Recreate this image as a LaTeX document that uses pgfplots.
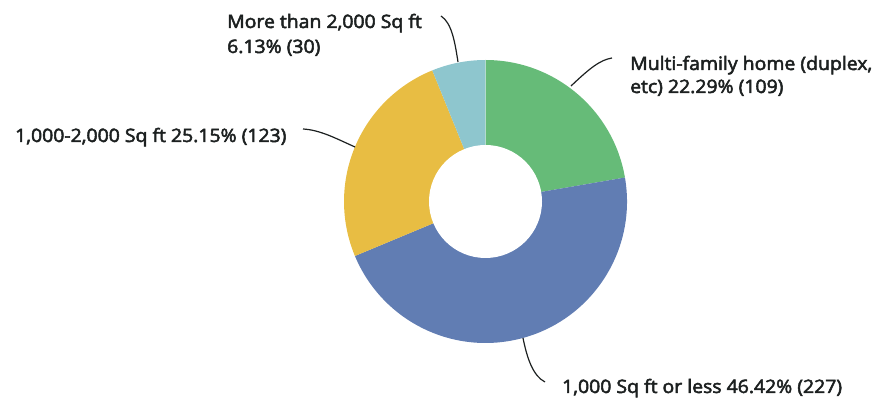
\documentclass[border=0pt]{standalone}
\usepackage{pgfplots}
\pgfplotsset{compat=1.18}
\usepackage{pgfplotstable}
\usepackage{fontspec}
\setmainfont{Open Sans}
\definecolor{cGreen}{HTML}{66BB78}
\definecolor{cBlue}{HTML}{617DB3}
\definecolor{cYellow}{HTML}{E8BD43}
\definecolor{cLight}{HTML}{8EC6CE}
\definecolor{cText}{HTML}{1C2020}
\newcommand\fb[1]{\scalebox{1.05}[1]{\special{pdf:literal direct 2 Tr 0.5 w}#1\special{pdf:literal direct 0 Tr}}}
% counts of the four answers, clockwise from 12 o'clock
\pgfplotstableread{
name count
multi 109
small 227
mid 123
large 30
}\donutdata
\pgfplotstablegetelem{0}{count}\of\donutdata \let\cA\pgfplotsretval
\pgfplotstablegetelem{1}{count}\of\donutdata \let\cB\pgfplotsretval
\pgfplotstablegetelem{2}{count}\of\donutdata \let\cC\pgfplotsretval
\pgfplotstablegetelem{3}{count}\of\donutdata \let\cD\pgfplotsretval
\pgfmathsetmacro\tot{\cA+\cB+\cC+\cD}
\pgfmathsetmacro\aO{90}
\pgfmathsetmacro\aA{90-360*(\cA/\tot)}
\pgfmathsetmacro\aB{\aA-360*(\cB/\tot)}
\pgfmathsetmacro\aC{\aB-360*(\cC/\tot)}
\pgfmathsetmacro\aD{\aC-360*(\cD/\tot)}
\begin{document}
\begin{tikzpicture}
\begin{axis}[
  width=881pt, height=398pt, scale only axis,
  xmin=0, xmax=881, ymin=0, ymax=398,
  hide axis, clip=false,
]
\path (axis cs:0,0) rectangle (axis cs:881,398);
\def\cx{485.5}\def\cy{196.5}\def\R{141.5pt}
\fill[cGreen]  (axis cs:\cx,\cy) -- ++(\aO:\R) arc[start angle=\aO, end angle=\aA, radius=\R] -- cycle;
\fill[cBlue]   (axis cs:\cx,\cy) -- ++(\aA:\R) arc[start angle=\aA, end angle=\aB, radius=\R] -- cycle;
\fill[cYellow] (axis cs:\cx,\cy) -- ++(\aB:\R) arc[start angle=\aB, end angle=\aC, radius=\R] -- cycle;
\fill[cLight]  (axis cs:\cx,\cy) -- ++(\aC:\R) arc[start angle=\aC, end angle=\aD, radius=\R] -- cycle;
\fill[white] (axis cs:\cx,\cy) circle[radius=56.5pt];
% leader lines
\draw[cText, line width=1.2pt] (axis cs:571,312) .. controls (axis cs:590,330) and (axis cs:600,338) .. (axis cs:612,340);
\draw[cText, line width=1.2pt] (axis cs:458,336) .. controls (axis cs:455,355) and (axis cs:452,375) .. (axis cs:441,382);
\draw[cText, line width=1.2pt] (axis cs:355,251) .. controls (axis cs:335,260) and (axis cs:320,268) .. (axis cs:303,269);
\draw[cText, line width=1.2pt] (axis cs:523,60) .. controls (axis cs:527,40) and (axis cs:533,22) .. (axis cs:545,16);
% labels
\tikzset{lab/.style={anchor=base west, inner sep=0pt, text=cText, font=\fontsize{18.5}{22}\selectfont}}
\node[lab] at (axis cs:630,328) {\fb{Multi-family home (duplex,}};
\node[lab] at (axis cs:630,305) {\fb{etc) 22.29\% (109)}};
\node[lab] at (axis cs:227,370) {\fb{More than 2,000 Sq ft}};
\node[lab] at (axis cs:227,345) {\fb{6.13\% (30)}};
\node[lab] at (axis cs:15,256) {\fb{1,000-2,000 Sq ft 25.15\% (123)}};
\node[lab] at (axis cs:562,5) {\fb{1,000 Sq ft or less 46.42\% (227)}};
\end{axis}
\end{tikzpicture}
\end{document}
